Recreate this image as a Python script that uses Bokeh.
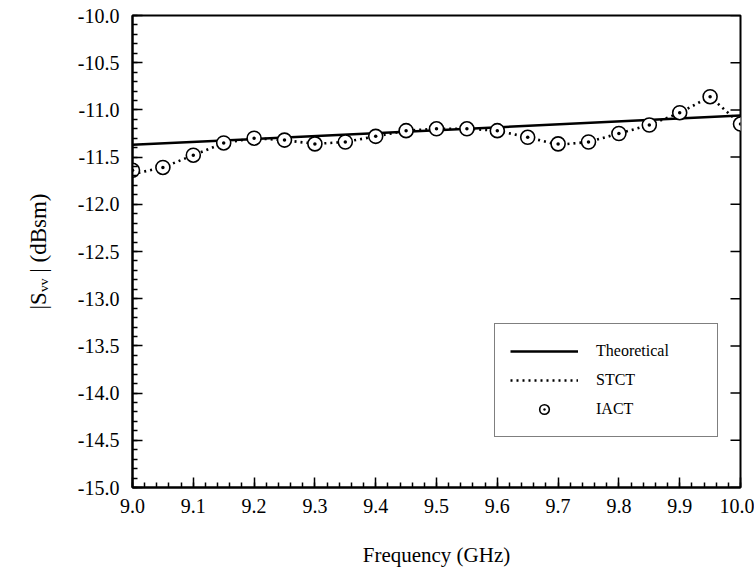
from bokeh.plotting import figure
from bokeh.models import FixedTicker, NumeralTickFormatter, Legend, LegendItem, Range1d
from bokeh.embed import file_html
from bokeh.resources import INLINE

# ---- data ----
freq = [9.00, 9.05, 9.10, 9.15, 9.20, 9.25, 9.30, 9.35, 9.40, 9.45, 9.50,
        9.55, 9.60, 9.65, 9.70, 9.75, 9.80, 9.85, 9.90, 9.95, 10.00]
iact = [-11.64, -11.61, -11.48, -11.35, -11.30, -11.32, -11.36, -11.34, -11.28, -11.22, -11.20,
        -11.20, -11.22, -11.29, -11.36, -11.34, -11.25, -11.16, -11.03, -10.86, -11.15]
stct = [-11.68, -11.61, -11.48, -11.35, -11.30, -11.32, -11.36, -11.34, -11.28, -11.22, -11.20,
        -11.20, -11.22, -11.29, -11.37, -11.34, -11.25, -11.16, -11.03, -10.86, -11.15]
theo_freq = [9.0, 10.0]
theo = [-11.37, -11.06]

x_ticks = [9.0, 9.1, 9.2, 9.3, 9.4, 9.5, 9.6, 9.7, 9.8, 9.9, 10.0]
y_ticks = [-10.0, -10.5, -11.0, -11.5, -12.0, -12.5, -13.0, -13.5, -14.0, -14.5, -15.0]

FONT = "Liberation Serif"

p = figure(width=754, height=571, output_backend="svg", toolbar_location=None,
           x_range=Range1d(9.0, 10.0), y_range=Range1d(-15.0, -10.0),
           min_border_left=132, min_border_right=14, min_border_top=15, min_border_bottom=84)
p.grid.visible = False
p.outline_line_color = "black"
p.outline_line_width = 2
p.background_fill_color = "white"
p.border_fill_color = "white"

r_theo = p.line(theo_freq, theo, line_color="black", line_width=2.5)
r_stct = p.line(freq, stct, line_color="black", line_width=2.6, line_dash="2 4")
r_iact = p.scatter(freq, iact, marker="circle_dot", size=14, line_color="black",
                   line_width=1.6, fill_color="white")

# inward major ticks on the right frame edge (half of each dash is clipped by the frame)
p.scatter([theo_freq[-1]] * len(y_ticks), y_ticks, marker="dash", size=20,
          line_color="black", line_width=1.5)

for ax in (p.xaxis[0], p.yaxis[0]):
    ax.major_label_text_font = FONT
    ax.major_label_text_font_size = "20px"
    ax.major_label_text_color = "black"
    ax.axis_label_text_font = FONT
    ax.axis_label_text_font_size = "21px"
    ax.axis_label_text_font_style = "normal"
    ax.axis_label_text_color = "black"
    ax.major_tick_in = 10
    ax.major_tick_out = 0
    ax.minor_tick_in = 5
    ax.minor_tick_out = 0
    ax.axis_line_width = 2
    ax.major_tick_line_width = 1.5
    ax.minor_tick_line_width = 1.5
    ax.formatter = NumeralTickFormatter(format="0.0")

p.xaxis[0].ticker = FixedTicker(ticks=x_ticks, minor_ticks=[9.0 + i * 0.02 for i in range(51)])
p.yaxis[0].ticker = FixedTicker(ticks=y_ticks, minor_ticks=[-15.0 + i * 0.1 for i in range(51)])
p.xaxis[0].axis_label = "Frequency (GHz)"
p.yaxis[0].axis_label = "|Sᵥᵥ | (dBsm)"
p.yaxis[0].axis_label_text_font_size = "23px"
p.xaxis[0].major_label_standoff = 11
p.xaxis[0].axis_label_standoff = 27
p.yaxis[0].major_label_standoff = 13
p.yaxis[0].axis_label_standoff = 24

legend = Legend(items=[LegendItem(label="Theoretical", renderers=[r_theo]),
                       LegendItem(label="STCT", renderers=[r_stct]),
                       LegendItem(label="IACT", renderers=[r_iact])],
                location=(362, 50))
legend.label_text_font = FONT
legend.label_text_font_size = "16px"
legend.label_text_color = "black"
legend.border_line_color = "black"
legend.border_line_width = 1.5
legend.glyph_width = 68
legend.glyph_height = 24
legend.label_height = 24
legend.label_width = 106
legend.label_standoff = 18
legend.spacing = 5
legend.padding = 15
legend.margin = 0
legend.background_fill_alpha = 1
p.add_layout(legend)

open("out.html", "w").write(file_html(p, INLINE))
